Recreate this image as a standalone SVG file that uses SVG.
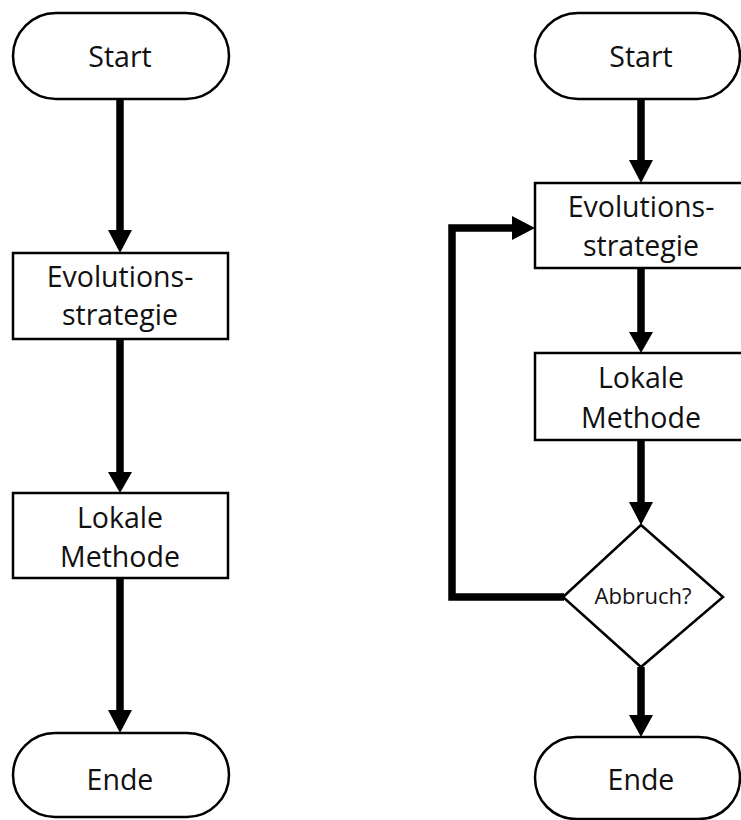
<svg xmlns="http://www.w3.org/2000/svg" width="741" height="820" viewBox="0 0 741 820">
<style>
.shape{fill:#fff;stroke:#000;stroke-width:2.5}
.t{font-family:"Open Sans",Lato,sans-serif;font-size:28.5px;text-anchor:middle;fill:#111;font-variant-ligatures:none}
.ts{font-family:"Open Sans",Lato,sans-serif;font-size:22px;text-anchor:middle;fill:#111}
.c{fill:none;stroke:#000;stroke-width:7.5;stroke-linejoin:miter}
.ah{fill:#000}
</style>
<rect width="741" height="820" fill="#fff"/>
<g id="connectors">
  <line class="c" x1="120" y1="99" x2="120" y2="232"/>
  <polygon class="ah" points="108,230 132,230 120,253"/>
  <line class="c" x1="120" y1="340" x2="120" y2="474"/>
  <polygon class="ah" points="108,472 132,472 120,493"/>
  <line class="c" x1="120" y1="578" x2="120" y2="712"/>
  <polygon class="ah" points="108,710 132,710 120,733"/>

  <line class="c" x1="641" y1="99" x2="641" y2="162"/>
  <polygon class="ah" points="629,160 653,160 641,183"/>
  <line class="c" x1="641" y1="268" x2="641" y2="334"/>
  <polygon class="ah" points="629,332 653,332 641,353"/>
  <line class="c" x1="641" y1="440" x2="641" y2="504"/>
  <polygon class="ah" points="629,502 653,502 641,525"/>
  <line class="c" x1="641" y1="667" x2="641" y2="717"/>
  <polygon class="ah" points="629,715 653,715 641,737"/>
  <polyline class="c" points="564,597 452,597 452,228 514,228"/>
  <polygon class="ah" points="512,216 512,240 535,228"/>
</g>
<g id="start1">
  <rect class="shape" x="13" y="13" width="216" height="86" rx="43" ry="43"/>
  <text class="t" x="120" y="67">Start</text>
</g>
<g id="evo1">
  <rect class="shape" x="13" y="253" width="215" height="86"/>
  <text class="t" x="120" y="287">Evolutions-</text>
  <text class="t" x="120" y="325">strategie</text>
</g>
<g id="lokal1">
  <rect class="shape" x="13" y="493" width="215" height="85"/>
  <text class="t" x="120" y="528">Lokale</text>
  <text class="t" x="120" y="567">Methode</text>
</g>
<g id="ende1">
  <rect class="shape" x="13" y="733" width="216" height="84" rx="42" ry="42"/>
  <text class="t" x="120" y="790">Ende</text>
</g>
<g id="start2">
  <rect class="shape" x="535" y="13" width="205" height="86" rx="43" ry="43"/>
  <text class="t" x="641" y="67">Start</text>
</g>
<g id="evo2">
  <rect class="shape" x="535" y="183" width="215" height="85"/>
  <text class="t" x="641" y="217">Evolutions-</text>
  <text class="t" x="641" y="256">strategie</text>
</g>
<g id="lokal2">
  <rect class="shape" x="535" y="353" width="215" height="87"/>
  <text class="t" x="641" y="388">Lokale</text>
  <text class="t" x="641" y="428">Methode</text>
</g>
<g id="abbruch">
  <polygon class="shape" points="641,525 723,597 641,667 563,597"/>
  <text class="ts" x="643" y="604">Abbruch?</text>
</g>
<g id="ende2">
  <rect class="shape" x="535" y="737" width="205" height="82" rx="41" ry="41"/>
  <text class="t" x="641" y="790">Ende</text>
</g>
</svg>
